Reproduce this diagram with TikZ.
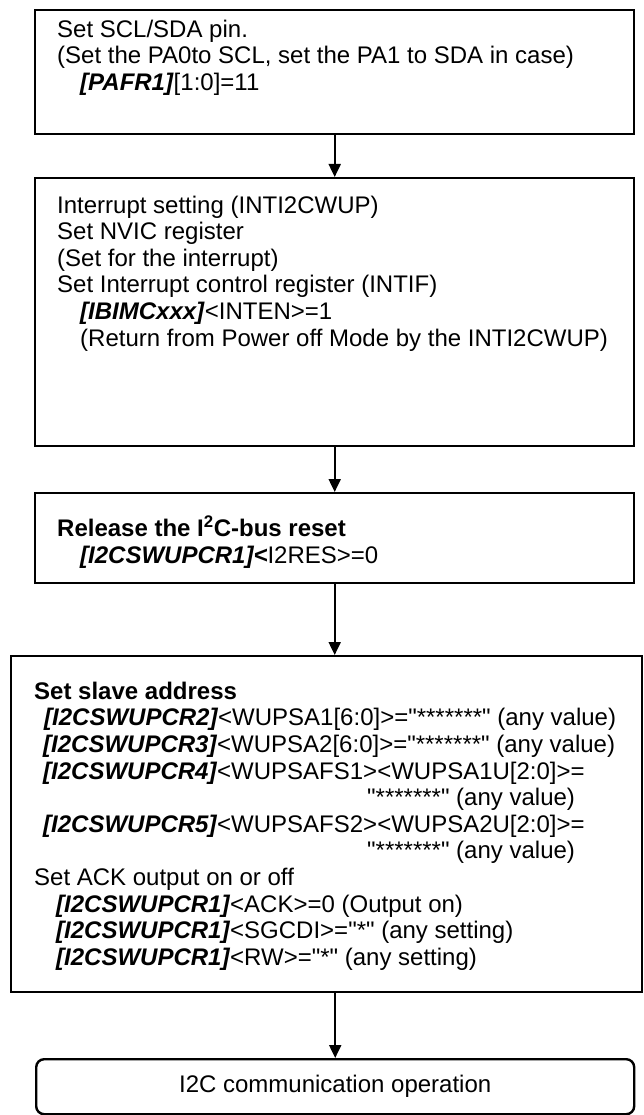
\documentclass[tikz,border=0pt]{standalone}
\usepackage{fontspec}
\newfontfamily\arialfont{Liberation Sans}
\usetikzlibrary{arrows.meta}
\newcommand\regname[1]{\textbf{\textit{#1}}}
\begin{document}
\begin{tikzpicture}[x=1pt,y=-1pt,
  box/.style={draw, line width=2.4pt, inner sep=0pt, anchor=north west},
  rbox/.style={draw, line width=2.4pt, inner sep=0pt, anchor=north west, rounded corners=8pt},
  txt/.style={anchor=north west, align=left, inner sep=0pt, font=\arialfont\fontsize{24}{26.6}\selectfont},
  ctxt/.style={anchor=center, inner sep=0pt, font=\arialfont\fontsize{24}{26.6}\selectfont},
  arr/.style={line width=2pt, -{Triangle[length=13pt,width=12pt]}}]
\useasboundingbox (0,0) rectangle (643,1115);

% boxes
\node[box, minimum width=599pt, minimum height=124pt] (b1) at (34,9) {};
\node[box, minimum width=599pt, minimum height=268pt] (b2) at (34,177) {};
\node[box, minimum width=599pt, minimum height=90pt] (b3) at (34,492) {};
\node[box, minimum width=631pt, minimum height=336pt] (b4) at (10,655) {};
\node[rbox, minimum width=598pt, minimum height=55pt] (b5) at (35,1058) {};

% texts (first baseline minus 17.4)
\node[txt] (t1) at (57,19.6) {Set SCL/SDA pin.\\
(Set the PA0to SCL, set the PA1 to SDA in case)\\
\hspace*{23pt}\regname{[PAFR1]}[1:0]=11};

\node[txt] (t2) at (57,195.6) {Interrupt setting (INTI2CWUP)\\
Set NVIC register\\
(Set for the interrupt)\\
Set Interrupt control register (INTIF)\\
\hspace*{23pt}\regname{[IBIMCxxx]}<INTEN>=1\\
\hspace*{23pt}(Return from Power off Mode by the INTI2CWUP)};

\node[txt] (t3) at (57,515.6) {\textbf{Release the I\textsuperscript{2}C-bus reset}\\
\hspace*{23pt}\regname{[I2CSWUPCR1]<}I2RES>=0};

\node[txt] (t4) at (34,681.6) {\textbf{Set slave address}\\
\hspace*{10pt}\regname{[I2CSWUPCR2]}<WUPSA1[6:0]>="*******" (any value)\\
\hspace*{9pt}\regname{[I2CSWUPCR3]}<WUPSA2[6:0]>="*******" (any value)\\
\hspace*{9pt}\regname{[I2CSWUPCR4]}<WUPSAFS1><WUPSA1U[2:0]>=\\
\hspace*{333pt}"*******" (any value)\\
\hspace*{9pt}\regname{[I2CSWUPCR5]}<WUPSAFS2><WUPSA2U[2:0]>=\\
\hspace*{333pt}"*******" (any value)\\
Set ACK output on or off\\
\hspace*{22pt}\regname{[I2CSWUPCR1]}<ACK>=0 (Output on)\\
\hspace*{22pt}\regname{[I2CSWUPCR1]}<SGCDI>="*" (any setting)\\
\hspace*{22pt}\regname{[I2CSWUPCR1]}<RW>="*" (any setting)};

\node[ctxt] (t5) at (b5.center) {I2C communication operation};

% connectors
\draw[arr] (b1.south) -- (b2.north);
\draw[arr] (b2.south) -- (b3.north);
\draw[arr] (b3.south) -- (b3.south |- b4.north);
\draw[arr] (b5.north |- b4.south) -- (b5.north);
\end{tikzpicture}
\end{document}
